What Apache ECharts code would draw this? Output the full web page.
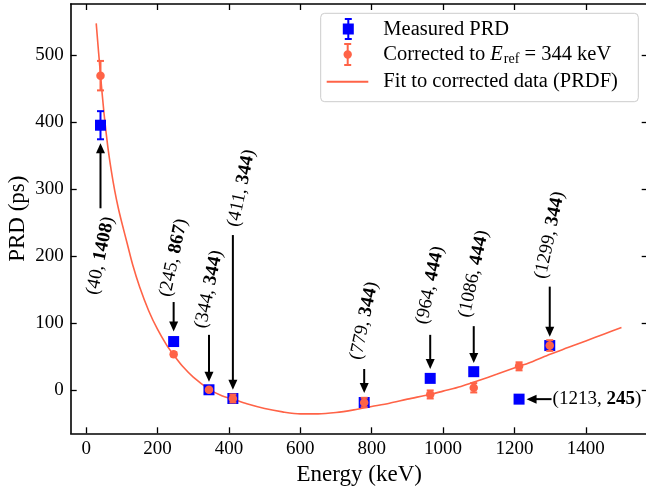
<!DOCTYPE html>
<html>
<head>
<meta charset="utf-8">
<script src="https://cdn.jsdelivr.net/npm/echarts@6/dist/echarts.min.js"></script>
<style>
  html, body { margin: 0; padding: 0; background: #fff; }
  #chart { width: 646px; height: 490px; }
</style>
</head>
<body>
<div id="chart"></div>
<script>
// Photon energies of the measured lines (keV)
const energy = [40, 245, 344, 411, 779, 964, 1086, 1213, 1299];
// Measured PRD (ps) and its uncertainty
const measuredPRD = [395, 72, 0, -13, -19, 17, 27, -14, 66];
const measuredErr = [21, 4, 4, 4, 4, 4, 4, 4, 4];
// PRD corrected to the 344 keV reference and its uncertainty
const correctedPRD = [469, 53, 0, -13, -19, -7, 3, 35, 66];
const correctedErr = [22, 3, 0, 6, 7, 6, 7, 6, 8];
// PRDF fit curve sampled along the energy range
const fitEnergy = [28, 40, 50, 60, 70, 80, 90, 100, 115, 130, 150, 175, 200, 225, 245, 270, 300, 344, 380, 411, 450, 500, 550, 600, 650, 700, 750, 800, 850, 900, 964, 1000, 1050, 1100, 1150, 1213, 1250, 1300, 1350, 1400, 1450, 1500];
const fitPRD = [547, 470, 412, 365, 328, 297, 271, 249, 218, 187, 153, 118, 90, 67, 52, 35, 19, 1, -9, -14, -21, -28, -33, -36, -36, -34, -30, -25, -20, -14, -7, -2, 5, 14, 23, 35, 42, 53, 63, 73, 83, 93];
// Annotation contents: cascade energy and the bold partner energy
const annoFirst = [40, 245, 344, 411, 779, 964, 1086, 1213, 1299];
const annoSecond = [1408, 867, 344, 344, 344, 444, 444, 245, 344];
// Tick values
const xTicks = [0, 200, 400, 600, 800, 1000, 1200, 1400];
const yTicks = [0, 100, 200, 300, 400, 500];

// Annotation placement in data coordinates
const annoTextE = [40, 245, 344, 435, 779, 964, 1086, 1307, 1299];
const annoTextY = [200, 197, 150, 301, 103, 156, 173, -14, 231];
const annoAngle = [78, 78, 78, 78, 78, 78, 78, 0, 78];
const arrowFrom = [[40, 271], [245, 131], [344, 82], [411, 231], [779, 31], [964, 82], [1086, 95], [1304, -14], [1299, 154]];
const arrowTo = [[40, 368], [245, 87], [344, 12], [411, 0], [779, -5], [964, 31], [1086, 40], [1234, -14], [1299, 79]];

const FONT = 'Liberation Serif';
const BLUE = '#0000ff';
const ORANGE = '#ff6347';

function errorBars(color, lw) {
  return function (params, api) {
    const x = api.value(0), y = api.value(1), e = api.value(2);
    if (!e) return null;
    const top = api.coord([x, y + e]);
    const bot = api.coord([x, y - e]);
    const cap = 3.5;
    const st = { stroke: color, lineWidth: lw };
    return {
      type: 'group',
      children: [
        { type: 'line', shape: { x1: top[0], y1: top[1], x2: bot[0], y2: bot[1] }, style: st },
        { type: 'line', shape: { x1: top[0] - cap, y1: top[1], x2: top[0] + cap, y2: top[1] }, style: st },
        { type: 'line', shape: { x1: bot[0] - cap, y1: bot[1], x2: bot[0] + cap, y2: bot[1] }, style: st }
      ]
    };
  };
}

function arrowItem(params, api) {
  const p1 = api.coord([api.value(0), api.value(1)]);
  const p2 = api.coord([api.value(2), api.value(3)]);
  const dx = p2[0] - p1[0], dy = p2[1] - p1[1];
  const len = Math.sqrt(dx * dx + dy * dy) || 1;
  const ux = dx / len, uy = dy / len;
  const headLen = 10, halfW = 4.5;
  const bx = p2[0] - ux * headLen, by = p2[1] - uy * headLen;
  return {
    type: 'group',
    children: [
      { type: 'line', shape: { x1: p1[0], y1: p1[1], x2: bx + ux * 1, y2: by + uy * 1 }, style: { stroke: '#000', lineWidth: 2 } },
      { type: 'polygon', shape: { points: [[p2[0], p2[1]], [bx - uy * halfW, by + ux * halfW], [bx + uy * halfW, by - ux * halfW]] }, style: { fill: '#000' } }
    ]
  };
}

function labelItem(params, api) {
  const i = params.dataIndex;
  const pt = api.coord([api.value(0), api.value(1)]);
  const horizontal = annoAngle[i] === 0;
  return {
    type: 'text',
    x: pt[0],
    y: pt[1],
    rotation: annoAngle[i] * Math.PI / 180,
    style: {
      text: '{n|(' + annoFirst[i] + ', }{b|' + annoSecond[i] + '}{n|)}',
      align: horizontal ? 'left' : 'center',
      verticalAlign: 'middle',
      rich: {
        n: { fontFamily: FONT, fontSize: 19, fill: '#000', fontWeight: 'normal' },
        b: { fontFamily: FONT, fontSize: 19, fill: '#000', fontWeight: 'bold' }
      }
    }
  };
}

const axisLineStyle = { color: '#000', width: 1.6 };
const tickStyle = { color: '#000', width: 1.3 };
const plainNumber = v => String(v);

const option = {
  animation: false,
  backgroundColor: '#fff',
  grid: { left: 70.7, top: 4, width: 577, height: 429.3, containLabel: false, outerBoundsMode: 'none' },
  xAxis: [
    {
      type: 'value', min: -43.5, max: 1573.5, position: 'bottom',
      axisLine: { show: true, onZero: false, lineStyle: axisLineStyle },
      axisTick: { show: true, inside: true, length: 6, customValues: xTicks, lineStyle: tickStyle },
      axisLabel: { customValues: xTicks, formatter: plainNumber, margin: 6, fontFamily: FONT, fontSize: 19, color: '#000' },
      splitLine: { show: false },
      name: 'Energy (keV)', nameLocation: 'middle', nameGap: 28,
      nameTextStyle: { fontFamily: FONT, fontSize: 23, color: '#000' }
    },
    {
      type: 'value', min: -43.5, max: 1573.5, position: 'top',
      axisLine: { show: true, onZero: false, lineStyle: axisLineStyle },
      axisTick: { show: true, inside: true, length: 6, customValues: xTicks, lineStyle: tickStyle },
      axisLabel: { show: false },
      splitLine: { show: false }
    }
  ],
  yAxis: [
    {
      type: 'value', min: -65, max: 576, position: 'left',
      axisLine: { show: true, onZero: false, lineStyle: axisLineStyle },
      axisTick: { show: true, inside: true, length: 6, customValues: yTicks, lineStyle: tickStyle },
      axisLabel: { customValues: yTicks, formatter: plainNumber, margin: 7, fontFamily: FONT, fontSize: 19, color: '#000' },
      splitLine: { show: false },
      name: 'PRD (ps)', nameLocation: 'middle', nameGap: 41, nameRotate: 90, nameMoveOverlap: false,
      nameTextStyle: { fontFamily: FONT, fontSize: 23, color: '#000' }
    },
    {
      type: 'value', min: -65, max: 576, position: 'right',
      axisLine: { show: true, onZero: false, lineStyle: axisLineStyle },
      axisTick: { show: true, inside: true, length: 6, customValues: yTicks, lineStyle: tickStyle },
      axisLabel: { show: false },
      splitLine: { show: false }
    }
  ],
  series: [
    {
      name: 'Fit to corrected data (PRDF)', type: 'line', z: 1,
      data: fitEnergy.map((e, i) => [e, fitPRD[i]]),
      showSymbol: false, smooth: 0.3,
      lineStyle: { color: ORANGE, width: 1.6 }
    },
    {
      name: 'Measured PRD errors', type: 'custom', z: 2,
      data: energy.map((e, i) => [e, measuredPRD[i], measuredErr[i]]),
      encode: { x: 0, y: 1 },
      renderItem: errorBars(BLUE, 2)
    },
    {
      name: 'Measured PRD', type: 'scatter', z: 3,
      data: energy.map((e, i) => [e, measuredPRD[i]]),
      symbol: 'rect', symbolSize: 11,
      itemStyle: { color: BLUE, opacity: 1 }
    },
    {
      name: 'Corrected errors', type: 'custom', z: 4,
      data: energy.map((e, i) => [e, correctedPRD[i], correctedErr[i]]),
      encode: { x: 0, y: 1 },
      renderItem: errorBars(ORANGE, 2)
    },
    {
      name: 'Corrected to Eref', type: 'scatter', z: 5,
      data: energy.map((e, i) => [e, correctedPRD[i]]),
      symbol: 'circle', symbolSize: 8.5,
      itemStyle: { color: ORANGE, opacity: 1 }
    },
    {
      name: 'arrows', type: 'custom', z: 6,
      data: arrowFrom.map((a, i) => [a[0], a[1], arrowTo[i][0], arrowTo[i][1]]),
      encode: { x: [0, 2], y: [1, 3] },
      renderItem: arrowItem
    },
    {
      name: 'labels', type: 'custom', z: 7,
      data: annoTextE.map((e, i) => [e, annoTextY[i]]),
      encode: { x: 0, y: 1 },
      renderItem: labelItem
    }
  ],
  graphic: [
    {
      type: 'group', z: 100,
      children: [
        { type: 'rect', shape: { x: 320.7, y: 13.3, width: 317.6, height: 88.4, r: 4 },
          style: { fill: 'rgba(255,255,255,0.85)', stroke: '#cccccc', lineWidth: 1 } },
        // Measured PRD key
        { type: 'line', shape: { x1: 348.3, y1: 19, x2: 348.3, y2: 39 }, style: { stroke: BLUE, lineWidth: 2 } },
        { type: 'line', shape: { x1: 344.8, y1: 19, x2: 351.8, y2: 19 }, style: { stroke: BLUE, lineWidth: 2 } },
        { type: 'line', shape: { x1: 344.8, y1: 39, x2: 351.8, y2: 39 }, style: { stroke: BLUE, lineWidth: 2 } },
        { type: 'rect', shape: { x: 342.8, y: 23.5, width: 11, height: 11 }, style: { fill: BLUE } },
        { type: 'text', x: 383.3, y: 29.5,
          style: { text: 'Measured PRD', fontFamily: FONT, fontSize: 20.5, fill: '#000', verticalAlign: 'middle' } },
        // Corrected key
        { type: 'line', shape: { x1: 347.7, y1: 44, x2: 347.7, y2: 65 }, style: { stroke: ORANGE, lineWidth: 2 } },
        { type: 'line', shape: { x1: 344.2, y1: 44, x2: 351.2, y2: 44 }, style: { stroke: ORANGE, lineWidth: 2 } },
        { type: 'line', shape: { x1: 344.2, y1: 65, x2: 351.2, y2: 65 }, style: { stroke: ORANGE, lineWidth: 2 } },
        { type: 'circle', shape: { cx: 347.7, cy: 54.5, r: 4.2 }, style: { fill: ORANGE } },
        { type: 'text', x: 383.3, y: 55,
          style: {
            text: '{n|Corrected to }{i|E}{s|ref}{n| = 344 keV}',
            verticalAlign: 'middle',
            rich: {
              n: { fontFamily: FONT, fontSize: 20.5, fill: '#000' },
              i: { fontFamily: FONT, fontSize: 20.5, fill: '#000', fontStyle: 'italic' },
              s: { fontFamily: FONT, fontSize: 14, fill: '#000', padding: [9, 0, 0, 1] }
            }
          } },
        // Fit key
        { type: 'line', shape: { x1: 326.7, y1: 81.7, x2: 368.3, y2: 81.7 }, style: { stroke: ORANGE, lineWidth: 2 } },
        { type: 'text', x: 383.3, y: 81.7,
          style: { text: 'Fit to corrected data (PRDF)', fontFamily: FONT, fontSize: 20.5, fill: '#000', verticalAlign: 'middle' } }
      ]
    }
  ]
};

const chart = echarts.init(document.getElementById('chart'), null, { renderer: 'canvas' });
chart.setOption(option);
</script>
</body>
</html>
